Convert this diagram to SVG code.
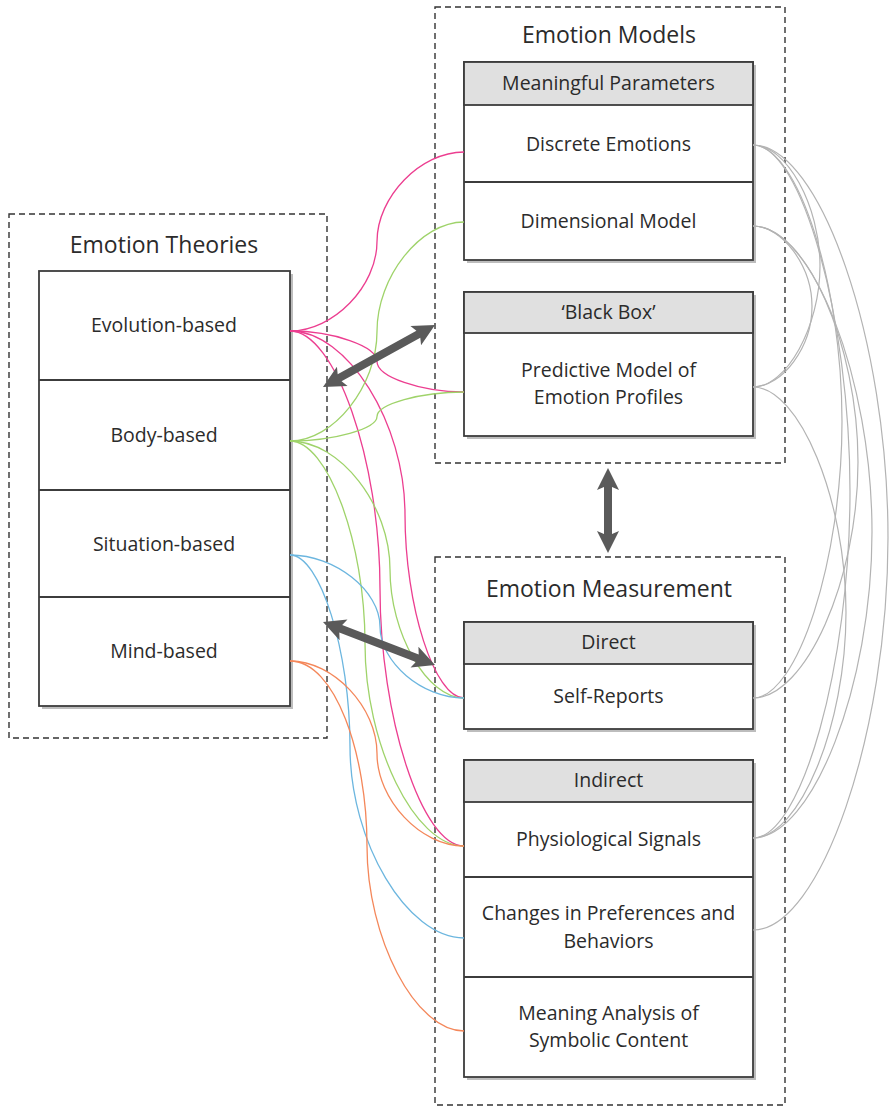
<svg xmlns="http://www.w3.org/2000/svg" width="891" height="1109" viewBox="0 0 891 1109">
<style>
.bg{fill:#ffffff}
.dash{fill:none;stroke:#333;stroke-width:1.4;stroke-dasharray:6 4}
.shadow{fill:#bdbdbd}
.box{fill:#fff;stroke:#3c3c3c;stroke-width:1.8}
.head{fill:#e0e0e0;stroke:#3c3c3c;stroke-width:1.8}
.sep{stroke:#3c3c3c;stroke-width:1.8}
.title{font-family:"Open Sans","Noto Sans",sans-serif;font-size:23px;fill:#2b2b2b;text-anchor:middle}
.lbl{font-family:"Open Sans","Noto Sans",sans-serif;font-size:19.5px;fill:#2b2b2b;text-anchor:middle}
.c{fill:none;stroke-width:1.3}
.pk{stroke:#ec3e90}
.gr{stroke:#9fd36a}
.bl{stroke:#6cb6df}
.or{stroke:#f4875a}
.gy{fill:none;stroke:#b3b3b3;stroke-width:1.2}
.arr{fill:#5a5a5a}
</style>
<rect class="bg" x="0" y="0" width="891" height="1109"/>

<g id="group-theories">
  <rect class="dash" x="9" y="214" width="318" height="524"/>
  <text class="title" x="164" y="253">Emotion Theories</text>
  <rect class="shadow" x="42" y="274" width="251" height="435"/>
  <rect class="box" x="39" y="271" width="251" height="435"/>
</g>
<g id="node-evolution">
  <text class="lbl" x="164" y="332">Evolution-based</text>
</g>
<g id="node-body">
  <line class="sep" x1="39" y1="380" x2="290" y2="380"/>
  <text class="lbl" x="164" y="442">Body-based</text>
</g>
<g id="node-situation">
  <line class="sep" x1="39" y1="490" x2="290" y2="490"/>
  <text class="lbl" x="164" y="551">Situation-based</text>
</g>
<g id="node-mind">
  <line class="sep" x1="39" y1="597" x2="290" y2="597"/>
  <text class="lbl" x="164" y="658">Mind-based</text>
</g>

<g id="group-models">
  <rect class="dash" x="435" y="7" width="350" height="456"/>
  <text class="title" x="609" y="43">Emotion Models</text>
</g>
<g id="node-meaningful">
  <rect class="shadow" x="467" y="65" width="289" height="198"/>
  <rect class="box" x="464" y="62" width="289" height="198"/>
  <rect class="head" x="464" y="62" width="289" height="43"/>
  <text class="lbl" x="608.5" y="90">Meaningful Parameters</text>
</g>
<g id="node-discrete">
  <text class="lbl" x="608.5" y="151">Discrete Emotions</text>
</g>
<g id="node-dimensional">
  <line class="sep" x1="464" y1="182" x2="753" y2="182"/>
  <text class="lbl" x="608.5" y="228">Dimensional Model</text>
</g>
<g id="node-blackbox">
  <rect class="shadow" x="467" y="295" width="289" height="144"/>
  <rect class="box" x="464" y="292" width="289" height="144"/>
  <rect class="head" x="464" y="292" width="289" height="41"/>
  <text class="lbl" x="608.5" y="319">‘Black Box’</text>
</g>
<g id="node-predictive">
  <text class="lbl" x="608.5" y="377">Predictive Model of</text>
  <text class="lbl" x="608.5" y="404">Emotion Profiles</text>
</g>

<g id="group-measurement">
  <rect class="dash" x="435" y="557" width="350" height="548"/>
  <text class="title" x="609" y="597">Emotion Measurement</text>
</g>
<g id="node-direct">
  <rect class="shadow" x="467" y="625" width="289" height="107"/>
  <rect class="box" x="464" y="622" width="289" height="107"/>
  <rect class="head" x="464" y="622" width="289" height="42"/>
  <text class="lbl" x="608.5" y="649">Direct</text>
</g>
<g id="node-selfreports">
  <text class="lbl" x="608.5" y="703">Self-Reports</text>
</g>
<g id="node-indirect">
  <rect class="shadow" x="467" y="763" width="289" height="317"/>
  <rect class="box" x="464" y="760" width="289" height="317"/>
  <rect class="head" x="464" y="760" width="289" height="42"/>
  <text class="lbl" x="608.5" y="787">Indirect</text>
</g>
<g id="node-physiological">
  <text class="lbl" x="608.5" y="846">Physiological Signals</text>
</g>
<g id="node-changes">
  <line class="sep" x1="464" y1="877" x2="753" y2="877"/>
  <text class="lbl" x="608.5" y="920">Changes in Preferences and</text>
  <text class="lbl" x="608.5" y="948">Behaviors</text>
</g>
<g id="node-meaning">
  <line class="sep" x1="464" y1="977" x2="753" y2="977"/>
  <text class="lbl" x="608.5" y="1020">Meaning Analysis of</text>
  <text class="lbl" x="608.5" y="1047">Symbolic Content</text>
</g>

<g id="connectors">
  <path class="c pk" d="M290,331 C333.5,331 377,286.25 377,241.5 C377,196.75 420.5,152 464,152"/>
  <path class="c pk" d="M290,331 C333.5,331 377,346.25 377,361.5 C377,376.75 420.5,392 464,392"/>
  <path class="c pk" d="M290,331 C347.5,331 405,422.75 405,514.5 C405,606.25 434.5,698 464,698"/>
  <path class="c pk" d="M290,331 C335,331 380,459.75 380,588.5 C380,717.25 422,846 464,846"/>
  <path class="c gr" d="M290,441 C333.5,441 377,386.25 377,331.5 C377,276.75 420.5,222 464,222"/>
  <path class="c gr" d="M290,441 C333.5,441 377,428.75 377,416.5 C377,404.25 420.5,392 464,392"/>
  <path class="c gr" d="M290,441 C340,441 390,505.25 390,569.5 C390,633.75 427,698 464,698"/>
  <path class="c gr" d="M290,441 C327.5,441 365,542.25 365,643.5 C365,744.75 414.5,846 464,846"/>
  <path class="c bl" d="M290,555 C335,555 380,590.75 380,626.5 C380,662.25 422,698 464,698"/>
  <path class="c bl" d="M290,555 C320,555 350,650.75 350,746.5 C350,842.25 407,938 464,938"/>
  <path class="c or" d="M290,661 C333.5,661 377,707.25 377,753.5 C377,799.75 420.5,846 464,846"/>
  <path class="c or" d="M290,661 C335,661 367,753.5 367,846 C367,938.5 415.5,1031 464,1031"/>

  <path class="gy" d="M753,145 C786.5,145 820,205.5 820,266 C820,326.5 786.5,387 753,387"/>
  <path class="gy" d="M753,226 C782.5,226 812,266.25 812,306.5 C812,346.75 782.5,387 753,387"/>
  <path class="gy" d="M753,145 C797.5,145 842,283.25 842,421.5 C842,559.75 797.5,698 753,698"/>
  <path class="gy" d="M753,226 C805.5,226 858,344 858,462 C858,580 805.5,698 753,698"/>
  <path class="gy" d="M753,145 C801.5,145 850,318.25 850,491.5 C850,664.75 801.5,838 753,838"/>
  <path class="gy" d="M753,226 C812.5,226 872,379 872,532 C872,685 812.5,838 753,838"/>
  <path class="gy" d="M753,387 C799.5,387 846,499.75 846,612.5 C846,725.25 799.5,838 753,838"/>
  <path class="gy" d="M753,145 C820.5,145 888,341.25 888,537.5 C888,733.75 820.5,930 753,930"/>

  <polygon class="arr" transform="translate(323,387) rotate(-28.97)" points="0,0 22,-11 19,-4 109,-4 106,-11 128,0 106,11 109,4 19,4 22,11"/>
  <polygon class="arr" transform="translate(323,622) rotate(21.0)" points="0,0 22,-11 19,-4 101,-4 98,-11 120,0 98,11 101,4 19,4 22,11"/>
  <polygon class="arr" transform="translate(608,468) rotate(90)" points="0,0 22,-11 19,-4 66,-4 63,-11 85,0 63,11 66,4 19,4 22,11"/>
</g>
</svg>
